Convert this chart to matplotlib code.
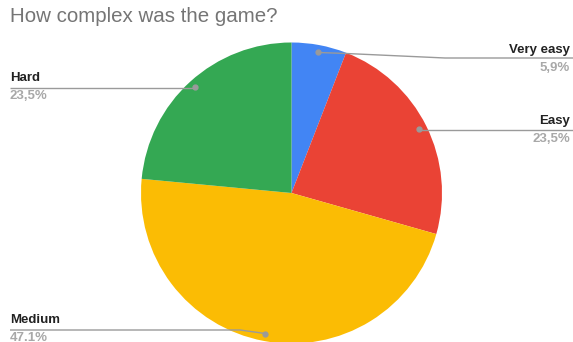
import numpy as np
import matplotlib
matplotlib.use('Agg')
import matplotlib.pyplot as plt

plt.rcParams['font.family'] = ['Liberation Sans', 'DejaVu Sans']

# chart data
categories = ['Very easy', 'Easy', 'Medium', 'Hard']
values = [5.9, 23.5, 47.1, 23.5]
pct_labels = ['5,9%', '23,5%', '47.1%', '23,5%']
colors = ['#4285F4', '#EA4335', '#FBBC04', '#34A853']

W, H = 573, 342
fig = plt.figure(figsize=(W / 100, H / 100), dpi=100)
ax = fig.add_axes([0, 0, 1, 1])

# pie in pixel coords (y measured from bottom)
cx, cy, r = 291.5, H - 193, 150.5
wedges, _ = ax.pie(values, colors=colors, startangle=90, counterclock=False,
                   center=(cx, cy), radius=r, frame=True,
                   wedgeprops=dict(linewidth=0))
ax.set_xlim(0, W)
ax.set_ylim(0, H)
ax.set_aspect('equal')
ax.axis('off')

# label layout (pixels from top-left)
layout = {
    'Very easy': dict(tx=570, ty=50, ha='right', ly=58),
    'Easy': dict(tx=570, ty=121, ha='right', ly=130),
    'Medium': dict(tx=10, ty=320, ha='left', ly=330),
    'Hard': dict(tx=10, ty=78, ha='left', ly=88),
}

line_c = '#9a9a9a'
for w, name, pct in zip(wedges, categories, pct_labels):
    mid = np.deg2rad((w.theta1 + w.theta2) / 2)
    dx = cx + 0.95 * r * np.cos(mid)
    dy = cy + 0.95 * r * np.sin(mid)
    L = layout[name]
    ly = H - L['ly']
    if name == 'Very easy':
        xs, ys = [dx, dx + 28, 445, W], [dy, dy - 1, ly, ly]
    elif name == 'Easy':
        xs, ys = [dx, W], [ly, ly]
    elif name == 'Medium':
        xs, ys = [L['tx'], 240, dx], [ly, ly, dy]
    else:
        xs, ys = [L['tx'], dx], [ly, ly]
    ax.plot(xs, ys, color=line_c, lw=1, solid_capstyle='butt', zorder=3)
    ax.plot(dx, dy, 'o', color=line_c, ms=3.5, zorder=4)
    ax.text(L['tx'], H - L['ty'], name, ha=L['ha'], va='center',
            fontsize=9.5, fontweight='bold', color='#222222')
    ax.text(L['tx'], H - L['ty'] - 18, pct, ha=L['ha'], va='center',
            fontsize=9.5, fontweight='bold', color='#a8a8a8')

ax.text(10, H - 17, 'How complex was the game?', ha='left', va='center',
        fontsize=14.8, color='#757575')

fig.savefig('out.png', dpi=100)
